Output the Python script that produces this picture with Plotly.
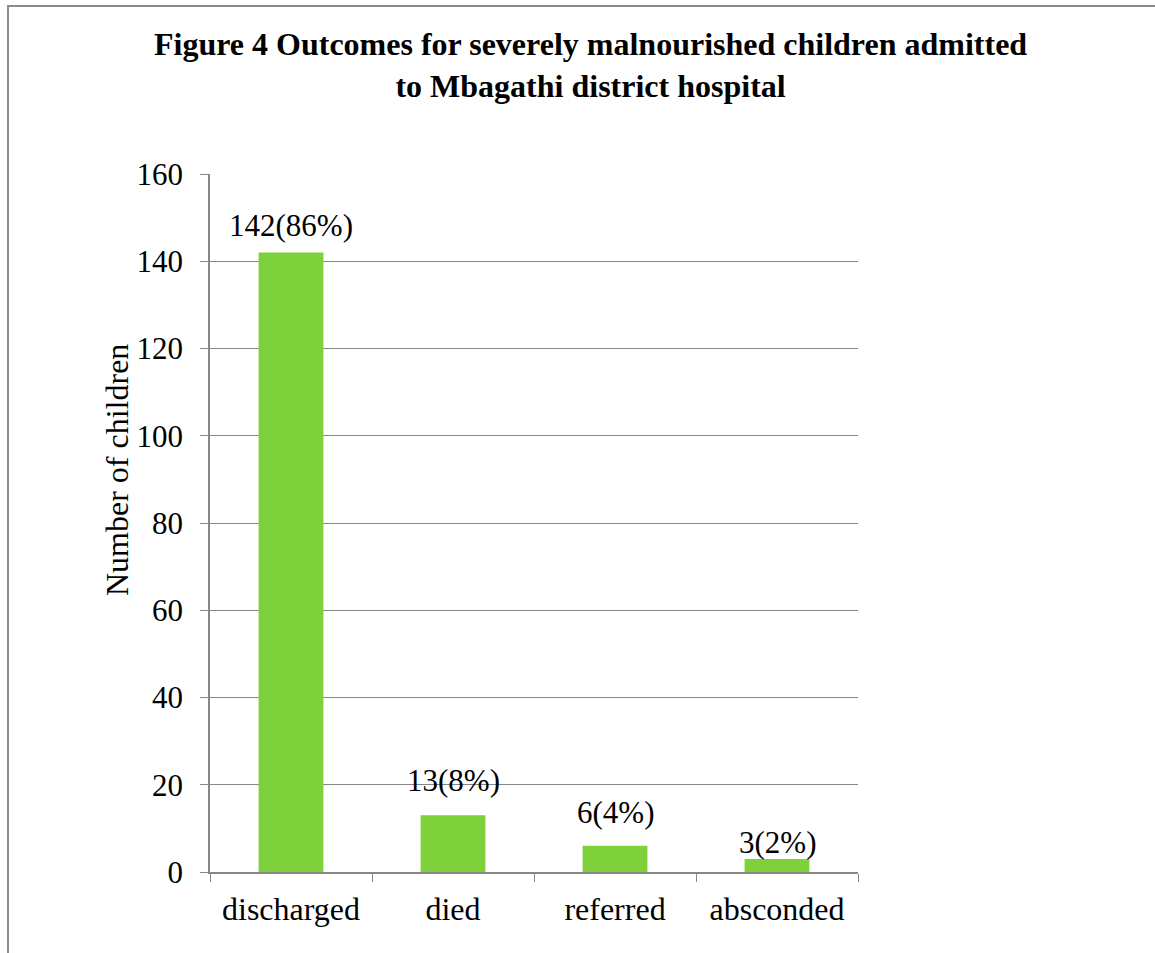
import plotly.graph_objects as go

categories = ["discharged", "died", "referred", "absconded"]
values = [142, 13, 6, 3]
labels = ["142(86%)", "13(8%)", "6(4%)", "3(2%)"]
label_shift = [27, 35, 33, 16]

W, H = 1155, 953
L, R, T, B = 210, 297, 174, 81
pw, ph = W - L - R, H - T - B

def px(x):
    return (x - L) / pw

def py(y):
    return (H - B - y) / ph

font = "Liberation Serif"

fig = go.Figure()
fig.add_trace(go.Bar(x=categories, y=values, marker_color="#7fd13b",
                     marker_line_width=0, width=0.4, hoverinfo="x+y"))

for c, v, t, s in zip(categories, values, labels, label_shift):
    fig.add_annotation(x=c, y=v, text=t, showarrow=False, yshift=s,
                       font=dict(family=font, size=31, color="black"))

fig.add_annotation(xref="paper", yref="paper", x=px(590), y=py(65),
                   xanchor="center", yanchor="middle",
                   text="<b>Figure 4 Outcomes for severely malnourished children admitted<br>to Mbagathi district hospital</b>",
                   showarrow=False, font=dict(family=font, size=32, color="black"),
                   align="center")

fig.add_annotation(xref="paper", yref="paper", x=px(117), y=py(470),
                   xanchor="center", yanchor="middle",
                   text="Number of children", textangle=-90, showarrow=False,
                   font=dict(family=font, size=32, color="black"))

fig.add_shape(type="rect", xref="paper", yref="paper",
              x0=px(8), x1=px(1170), y0=py(6), y1=py(970),
              line=dict(color="#8c8c8c", width=2), fillcolor="rgba(0,0,0,0)", layer="below")

fig.update_layout(
    width=W, height=H,
    margin=dict(l=L, r=R, t=T, b=B),
    paper_bgcolor="white", plot_bgcolor="white",
    showlegend=False,
    font=dict(family=font, size=32, color="black"),
)
fig.update_xaxes(tickson="boundaries", ticks="outside", ticklen=8, tickcolor="#868686",
                 showline=True, linecolor="#868686", linewidth=1.5, showgrid=False,
                 ticklabelstandoff=8,
                 tickfont=dict(family=font, size=32, color="black"))
fig.update_yaxes(range=[0, 160], dtick=20, ticks="outside", ticklen=8, tickcolor="#868686",
                 showline=True, linecolor="#868686", linewidth=1.5,
                 showgrid=True, gridcolor="#868686", gridwidth=1, zeroline=False,
                 ticklabelstandoff=11,
                 tickfont=dict(family=font, size=31, color="black"))

fig.write_html("out.html")
